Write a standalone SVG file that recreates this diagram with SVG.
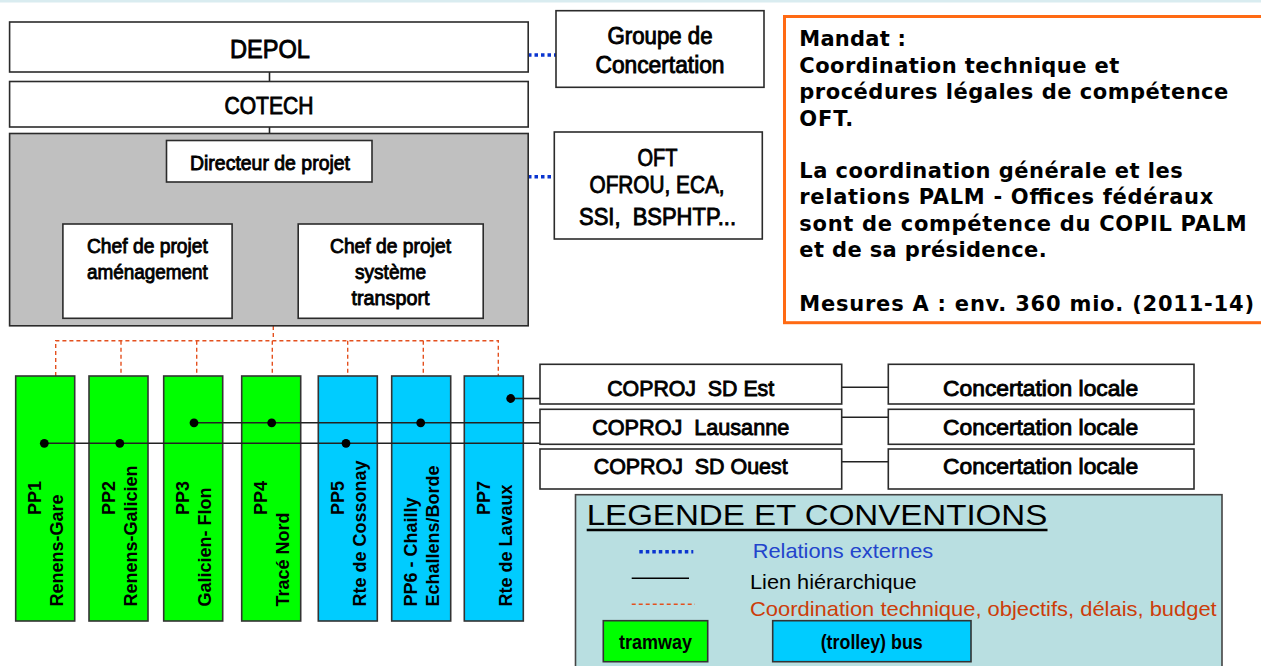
<svg xmlns="http://www.w3.org/2000/svg" width="1261" height="666" viewBox="0 0 1261 666">
<style>
.bg{fill:#ffffff}
.box{fill:#ffffff;stroke:#2b2b2b;stroke-width:1.6}
.gray{fill:#c0c0c0;stroke:#2b2b2b;stroke-width:1.6}
.tram{fill:#00ff00;stroke:#333;stroke-width:1.6}
.bus{fill:#00ccff;stroke:#333;stroke-width:1.6}
.nar{font-family:"Liberation Sans Narrow","Arial Narrow","Liberation Sans",Arial,sans-serif;fill:#000;stroke:#000;stroke-width:0.9;text-anchor:middle}
.narb{font-family:"Liberation Sans Narrow","Arial Narrow","Liberation Sans",Arial,sans-serif;fill:#000;font-weight:bold;text-anchor:middle}
.pp{font-family:"Liberation Sans",Arial,sans-serif;font-weight:bold;font-size:18px;fill:#000}
.mandat{font-family:"DejaVu Sans",Verdana,sans-serif;font-weight:bold;font-size:21px;fill:#000}
.leg{font-family:"Liberation Sans",Arial,sans-serif}
.hier{stroke:#222;stroke-width:1.6;fill:none}
.ext{stroke:#0a35d0;stroke-width:3.5;stroke-dasharray:3.5 3;fill:none}
.coord{stroke:#e4501e;stroke-width:1.4;stroke-dasharray:4 3;fill:none}
.dot{fill:#000}
</style>
<rect class="bg" x="0" y="0" width="1261" height="666"/>
<rect x="0" y="0" width="1261" height="2.5" fill="#d9ecf0"/>

<g id="connectors">
  <line class="hier" x1="269.5" y1="72" x2="269.5" y2="81.5"/>
  <line class="hier" x1="269.5" y1="127" x2="269.5" y2="133.5"/>
  <path class="hier" d="M270 182 V199.3 M147.5 224 V199.3 H392.5 V224"/>
  <line class="ext" x1="528" y1="55" x2="573" y2="55"/>
  <line class="ext" x1="528" y1="176.7" x2="573" y2="176.7"/>
  <path class="coord" d="M273.3 326 V340.7 M55.7 376 V340.7 H498.3 V376 M121 340.7 V376 M196.7 340.7 V376 M272.3 340.7 V376 M347.7 340.7 V376 M423.3 340.7 V376"/>
  <line class="hier" x1="841.7" y1="387.3" x2="888.3" y2="387.3"/>
  <line class="hier" x1="841.7" y1="417.3" x2="888.3" y2="417.3"/>
  <line class="hier" x1="841.7" y1="461.7" x2="888.3" y2="461.7"/>
</g>

<g id="depol"><rect class="box" x="9.6" y="22" width="518.6" height="50"/><text class="nar" x="270" y="57.5" font-size="26" textLength="80" lengthAdjust="spacingAndGlyphs">DEPOL</text></g>
<g id="cotech"><rect class="box" x="9.6" y="81.5" width="518.6" height="45.5"/><text class="nar" x="269" y="114" font-size="24" textLength="89" lengthAdjust="spacingAndGlyphs">COTECH</text></g>
<g id="projet">
  <rect class="gray" x="9.6" y="133.5" width="518.6" height="192.3"/>
</g>
<g id="directeur"><rect class="box" x="166.5" y="140.5" width="205.5" height="41.5"/><text class="nar" x="270" y="170" font-size="21" textLength="160" lengthAdjust="spacingAndGlyphs">Directeur de projet</text></g>
<g id="chef-amenagement"><rect class="box" x="62.9" y="224" width="169.2" height="94.3"/>
  <text class="nar" x="147.4" y="253.3" font-size="21" textLength="121" lengthAdjust="spacingAndGlyphs">Chef de projet</text>
  <text class="nar" x="147.4" y="279.3" font-size="21" textLength="121" lengthAdjust="spacingAndGlyphs">aménagement</text></g>
<g id="chef-transport"><rect class="box" x="298.2" y="224" width="185" height="94.3"/>
  <text class="nar" x="390.5" y="253.3" font-size="21" textLength="121" lengthAdjust="spacingAndGlyphs">Chef de projet</text>
  <text class="nar" x="390.5" y="279.3" font-size="21" textLength="71" lengthAdjust="spacingAndGlyphs">système</text>
  <text class="nar" x="390.5" y="305" font-size="21" textLength="78" lengthAdjust="spacingAndGlyphs">transport</text></g>

<g id="groupe-concertation"><rect class="box" x="556" y="10.7" width="208" height="76.6"/>
  <text class="nar" x="660" y="44.3" font-size="23" textLength="105" lengthAdjust="spacingAndGlyphs">Groupe de</text>
  <text class="nar" x="660" y="73.3" font-size="23" textLength="129" lengthAdjust="spacingAndGlyphs">Concertation</text></g>
<g id="offices"><rect class="box" x="554.3" y="132" width="208" height="107"/>
  <text class="nar" x="657.5" y="165.5" font-size="24" textLength="40" lengthAdjust="spacingAndGlyphs">OFT</text>
  <text class="nar" x="657" y="192.5" font-size="24" textLength="135" lengthAdjust="spacingAndGlyphs">OFROU, ECA,</text>
  <text class="nar" x="657.5" y="225" font-size="24" textLength="157" lengthAdjust="spacingAndGlyphs" xml:space="preserve">SSI,  BSPHTP...</text></g>

<g id="mandat">
  <rect x="784.5" y="16.5" width="480" height="306.2" fill="#ffffff" stroke="#ff6a13" stroke-width="3"/>
  <text class="mandat" x="799.3" y="45.7" textLength="106.7" lengthAdjust="spacing">Mandat :</text>
  <text class="mandat" x="799.3" y="72.7" textLength="320" lengthAdjust="spacing">Coordination technique et</text>
  <text class="mandat" x="799.3" y="99.3" textLength="429" lengthAdjust="spacing">procédures légales de compétence</text>
  <text class="mandat" x="799.3" y="126" textLength="54" lengthAdjust="spacing">OFT.</text>
  <text class="mandat" x="799.3" y="178.3" textLength="383.4" lengthAdjust="spacing">La coordination générale et les</text>
  <text class="mandat" x="799.3" y="204" textLength="414" lengthAdjust="spacing">relations PALM - Offices fédéraux</text>
  <text class="mandat" x="799.3" y="230.7" textLength="447.4" lengthAdjust="spacing">sont de compétence du COPIL PALM</text>
  <text class="mandat" x="799.3" y="257.3" textLength="247.4" lengthAdjust="spacing">et de sa présidence.</text>
  <text class="mandat" x="799.3" y="310.7" textLength="454.7" lengthAdjust="spacing">Mesures A : env. 360 mio. (2011-14)</text>
</g>

<g id="pp1"><rect class="tram" x="15.7" y="376" width="59" height="245"/>
  <text class="pp" transform="translate(41.2,515) rotate(-90)">PP1</text>
  <text class="pp" transform="translate(63.2,606.5) rotate(-90)">Renens-Gare</text></g>
<g id="pp2"><rect class="tram" x="89" y="376" width="59" height="245"/>
  <text class="pp" transform="translate(114.5,515) rotate(-90)">PP2</text>
  <text class="pp" transform="translate(136.5,606.5) rotate(-90)">Renens-Galicien</text></g>
<g id="pp3"><rect class="tram" x="163.7" y="376" width="59" height="245"/>
  <text class="pp" transform="translate(189.2,515) rotate(-90)">PP3</text>
  <text class="pp" transform="translate(211.2,606.5) rotate(-90)">Galicien- Flon</text></g>
<g id="pp4"><rect class="tram" x="241.7" y="376" width="59" height="245"/>
  <text class="pp" transform="translate(267.2,515) rotate(-90)">PP4</text>
  <text class="pp" transform="translate(289.2,606.5) rotate(-90)">Tracé Nord</text></g>
<g id="pp5"><rect class="bus" x="318.3" y="376" width="59" height="245"/>
  <text class="pp" transform="translate(343.8,515) rotate(-90)">PP5</text>
  <text class="pp" transform="translate(365.8,606.5) rotate(-90)">Rte de Cossonay</text></g>
<g id="pp6"><rect class="bus" x="391.7" y="376" width="59" height="245"/>
  <text class="pp" transform="translate(417.2,606.5) rotate(-90)">PP6 - Chailly</text>
  <text class="pp" transform="translate(439.2,606.5) rotate(-90)">Echallens/Borde</text></g>
<g id="pp7"><rect class="bus" x="464.3" y="376" width="59" height="245"/>
  <text class="pp" transform="translate(489.8,515) rotate(-90)">PP7</text>
  <text class="pp" transform="translate(511.8,606.5) rotate(-90)">Rte de Lavaux</text></g>

<g id="links">
  <line class="hier" x1="44.3" y1="443.3" x2="540" y2="443.3"/>
  <line class="hier" x1="194" y1="422.8" x2="540" y2="422.8"/>
  <line class="hier" x1="510.7" y1="398.5" x2="540" y2="398.5"/>
  <circle class="dot" cx="44.3" cy="443.3" r="4.4"/>
  <circle class="dot" cx="119.8" cy="443.3" r="4.4"/>
  <circle class="dot" cx="346" cy="443.3" r="4.4"/>
  <circle class="dot" cx="194" cy="422.8" r="4.4"/>
  <circle class="dot" cx="271.7" cy="422.8" r="4.4"/>
  <circle class="dot" cx="420.7" cy="422.8" r="4.4"/>
  <circle class="dot" cx="510.7" cy="398.5" r="4.4"/>
</g>

<g id="coproj-est"><rect class="box" x="540" y="364.3" width="301.7" height="39.7"/><text class="nar" x="690.7" y="395.7" font-size="22" textLength="167" lengthAdjust="spacingAndGlyphs" xml:space="preserve">COPROJ  SD Est</text></g>
<g id="coproj-lausanne"><rect class="box" x="540" y="409.3" width="301.7" height="35"/><text class="nar" x="690.7" y="435" font-size="22" textLength="197" lengthAdjust="spacingAndGlyphs" xml:space="preserve">COPROJ  Lausanne</text></g>
<g id="coproj-ouest"><rect class="box" x="540" y="449" width="301.7" height="40"/><text class="nar" x="690.7" y="474" font-size="22" textLength="194" lengthAdjust="spacingAndGlyphs" xml:space="preserve">COPROJ  SD Ouest</text></g>
<g id="concertation-est"><rect class="box" x="888.3" y="364.3" width="305.7" height="39.7"/><text class="nar" x="1040.6" y="395.7" font-size="22" textLength="195" lengthAdjust="spacingAndGlyphs">Concertation locale</text></g>
<g id="concertation-lausanne"><rect class="box" x="888.3" y="409.3" width="305.7" height="35"/><text class="nar" x="1040.6" y="435" font-size="22" textLength="195" lengthAdjust="spacingAndGlyphs">Concertation locale</text></g>
<g id="concertation-ouest"><rect class="box" x="888.3" y="449" width="305.7" height="40"/><text class="nar" x="1040.6" y="474" font-size="22" textLength="195" lengthAdjust="spacingAndGlyphs">Concertation locale</text></g>

<g id="legende">
  <rect x="575.5" y="494.7" width="646.5" height="190" fill="#b9dfe1" stroke="#444" stroke-width="1.6"/>
  <text class="leg" x="586.7" y="525" font-size="30" textLength="460.6" lengthAdjust="spacingAndGlyphs" fill="#000">LEGENDE ET CONVENTIONS</text>
  <line x1="586.7" y1="530" x2="1047.5" y2="530" stroke="#000" stroke-width="2.5"/>
  <line class="ext" x1="639.3" y1="551.7" x2="693.3" y2="551.7"/>
  <text class="leg" x="752.7" y="557.7" font-size="21" textLength="180.6" lengthAdjust="spacingAndGlyphs" fill="#2244cc">Relations externes</text>
  <line x1="631.7" y1="578.3" x2="689" y2="578.3" stroke="#000" stroke-width="1.4"/>
  <text class="leg" x="750" y="589.3" font-size="21" textLength="166.7" lengthAdjust="spacingAndGlyphs" fill="#000">Lien hiérarchique</text>
  <line class="coord" x1="631.7" y1="604.3" x2="695" y2="604.3"/>
  <text class="leg" x="750" y="615.5" font-size="21" textLength="466.7" lengthAdjust="spacingAndGlyphs" fill="#cc3d0a">Coordination technique, objectifs, délais, budget</text>
  <g id="leg-tramway"><rect class="tram" x="603.3" y="620.7" width="104.4" height="41"/>
    <text class="narb" x="655.5" y="649.3" font-size="21" textLength="73" lengthAdjust="spacingAndGlyphs">tramway</text></g>
  <g id="leg-bus"><rect class="bus" x="772.7" y="620.7" width="198.3" height="41"/>
    <text class="narb" x="871.7" y="649.3" font-size="21" textLength="102" lengthAdjust="spacingAndGlyphs">(trolley) bus</text></g>
</g>
</svg>
